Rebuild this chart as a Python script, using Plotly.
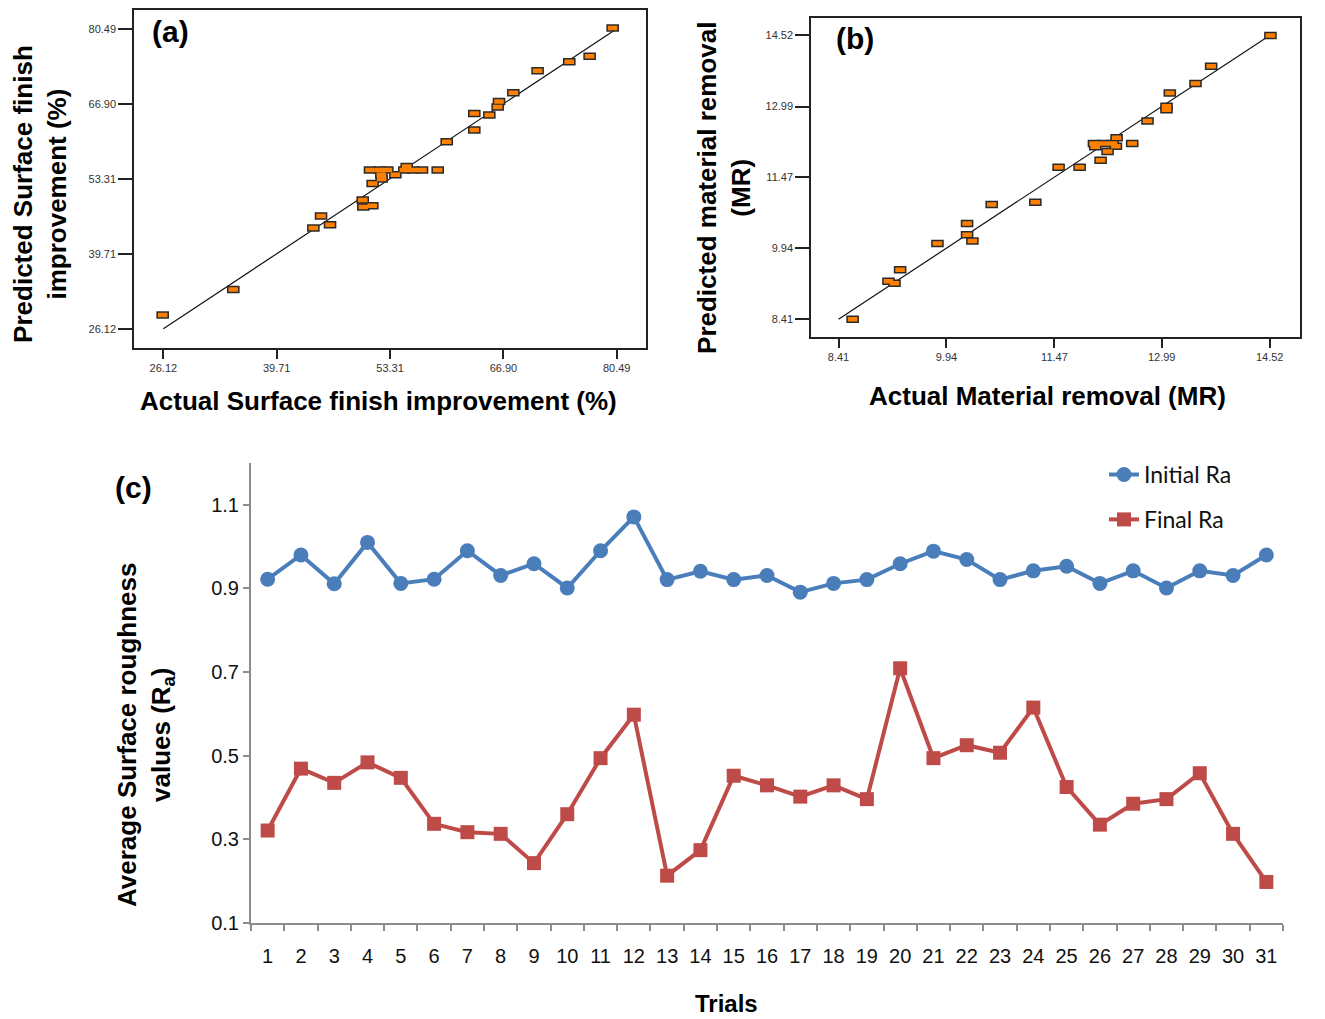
import plotly.graph_objects as go

# ---------------- data ----------------
# (a) Surface finish improvement (%)
actual_sf = [26.04, 34.51, 44.11, 45.03, 46.11, 50.03, 50.10, 51.18, 51.22, 50.90,
             52.02, 52.30, 52.26, 52.98, 53.94, 55.30, 55.02, 56.10, 57.14, 59.02,
             60.10, 63.41, 63.41, 65.21, 66.21, 66.37, 68.09, 71.00, 74.80, 77.24, 80.00]
predicted_sf = [28.63, 33.24, 44.36, 46.57, 44.96, 49.44, 48.18, 48.42, 52.43, 54.88,
                54.88, 53.27, 54.04, 54.88, 54.04, 55.54, 54.88, 54.88, 54.88, 54.88,
                60.02, 62.12, 65.11, 64.87, 66.30, 67.32, 68.88, 72.88, 74.50, 75.51, 80.60]
fit_sf = [26.12, 80.49]
ticks_sf = [26.12, 39.71, 53.31, 66.90, 80.49]
ticktext_sf = ["26.12", "39.71", "53.31", "66.90", "80.49"]

# (b) Material removal (MR)
actual_mr = [8.61, 9.118, 9.203, 9.283, 9.812, 10.232, 10.232, 10.307, 10.581, 11.199,
             11.529, 11.827, 12.030, 12.048, 12.162, 12.124, 12.223, 12.294, 12.341, 12.351,
             12.572, 12.789, 13.058, 13.058, 13.105, 13.469, 13.691, 14.531]
predicted_mr = [8.41, 9.228, 9.185, 9.477, 10.039, 10.473, 10.231, 10.096, 10.878, 10.928,
                11.682, 11.682, 12.194, 12.123, 12.194, 11.831, 12.023, 12.194, 12.137, 12.315,
                12.194, 12.677, 12.997, 12.919, 13.282, 13.488, 13.858, 14.52]
fit_mr = [8.41, 14.52]
ticks_mr = [8.41, 9.94, 11.47, 12.99, 14.52]
ticktext_mr = ["8.41", "9.94", "11.47", "12.99", "14.52"]

# (c) Surface roughness per trial
trials = [str(i) for i in range(1, 32)]
initial_ra = [0.922, 0.980, 0.911, 1.010, 0.912, 0.922, 0.990, 0.931, 0.959, 0.901,
              0.990, 1.071, 0.921, 0.941, 0.921, 0.931, 0.891, 0.912, 0.921, 0.959,
              0.989, 0.969, 0.921, 0.942, 0.953, 0.912, 0.942, 0.901, 0.942, 0.931, 0.980]
final_ra = [0.321, 0.469, 0.435, 0.484, 0.447, 0.337, 0.317, 0.313, 0.243, 0.360,
            0.494, 0.598, 0.213, 0.274, 0.452, 0.429, 0.402, 0.429, 0.396, 0.709,
            0.494, 0.525, 0.507, 0.615, 0.425, 0.335, 0.385, 0.396, 0.458, 0.313, 0.198]
ticks_ra = [0.1, 0.3, 0.5, 0.7, 0.9, 1.1]

# ---------------- helpers ----------------
W, H = 1325, 1019
def px(x):
    return x / W
def py(y):
    return 1 - y / H

ARIAL = "Liberation Sans, Arial, sans-serif"
ORANGE = "#FF8000"
EDGE = "#2a2a2a"
BLUE = "#4A7EBB"
RED = "#BE4B48"
GRAY = "#8C8C8C"

fig = go.Figure()

def rect_points(x, y, xa, ya):
    # dark outer bar then orange inner bar -> rectangular marker with border
    fig.add_trace(go.Scatter(x=x, y=y, mode="markers", xaxis=xa, yaxis=ya, showlegend=False,
                             marker=dict(symbol="line-ew", size=9, line=dict(width=7.5, color=EDGE))))
    fig.add_trace(go.Scatter(x=x, y=y, mode="markers", xaxis=xa, yaxis=ya, showlegend=False,
                             marker=dict(symbol="line-ew", size=6.8, line=dict(width=4.5, color=ORANGE))))

# (a)
fig.add_trace(go.Scatter(x=fit_sf, y=fit_sf, mode="lines", xaxis="x", yaxis="y", showlegend=False,
                         line=dict(color="#111111", width=1.2)))
rect_points(actual_sf, predicted_sf, "x", "y")
# (b)
fig.add_trace(go.Scatter(x=fit_mr, y=fit_mr, mode="lines", xaxis="x2", yaxis="y2", showlegend=False,
                         line=dict(color="#111111", width=1.2)))
rect_points(actual_mr, predicted_mr, "x2", "y2")
# (c)
fig.add_trace(go.Scatter(x=trials, y=initial_ra, mode="lines+markers", name="Initial Ra",
                         xaxis="x3", yaxis="y3", legendgroup="g1",
                         line=dict(color=BLUE, width=4),
                         marker=dict(symbol="circle", size=15, color=BLUE)))
fig.add_trace(go.Scatter(x=trials, y=final_ra, mode="lines+markers", name="Final Ra",
                         xaxis="x3", yaxis="y3", legendgroup="g2",
                         line=dict(color=RED, width=4),
                         marker=dict(symbol="square", size=14, color=RED)))

small_tick_font = dict(family=ARIAL, size=11, color="#333333")
box_axis = dict(showline=True, linecolor="#222222", linewidth=1.5, mirror=True,
                showgrid=False, zeroline=False, ticks="outside", tickcolor="#222222",
                tickwidth=1.5, tickfont=small_tick_font, tickmode="array")

fig.update_layout(
    width=W, height=H, margin=dict(l=0, r=0, t=0, b=0),
    paper_bgcolor="white", plot_bgcolor="white",
    xaxis=dict(domain=[px(134), px(646)], range=[22.6, 84.0], tickvals=ticks_sf,
               ticktext=ticktext_sf, ticklen=9, anchor="y", **box_axis),
    yaxis=dict(domain=[py(352), py(10)], range=[22.6, 83.9], tickvals=ticks_sf,
               ticktext=ticktext_sf, ticklen=14, anchor="x", **box_axis),
    xaxis2=dict(domain=[px(811), px(1300)], range=[8.02, 14.95], tickvals=ticks_mr,
                ticktext=ticktext_mr, ticklen=9, anchor="y2", **box_axis),
    yaxis2=dict(domain=[py(341), py(18)], range=[8.02, 14.90], tickvals=ticks_mr,
                ticktext=ticktext_mr, ticklen=14, anchor="x2", **box_axis),
    xaxis3=dict(domain=[px(251), px(1283)], anchor="y3", type="category",
                range=[-0.5, 30.5],
                showline=True, linecolor=GRAY, linewidth=2, showgrid=False, zeroline=False,
                ticks="outside", tickson="boundaries", ticklen=6, tickcolor=GRAY, tickwidth=2,
                tickangle=0, ticklabelstandoff=14,
                tickfont=dict(family=ARIAL, size=20, color="#111111")),
    yaxis3=dict(domain=[py(933), py(468)], anchor="x3", range=[0.1, 1.2],
                tickmode="array", tickvals=ticks_ra, tickformat=".1f",
                showline=True, linecolor=GRAY, linewidth=2, showgrid=False, zeroline=False,
                ticks="outside", ticklen=6, tickcolor=GRAY, tickwidth=2,
                tickfont=dict(family=ARIAL, size=20, color="#111111")),
    legend=dict(x=px(1104), y=py(458), xanchor="left", yanchor="top",
                font=dict(family="Lato, Carlito, Calibri, sans-serif", size=23, color="#111111"),
                tracegroupgap=12, bgcolor="rgba(0,0,0,0)", itemwidth=30),
    showlegend=True,
)

def ann(text, x, y, size, angle=0):
    fig.add_annotation(text=text, x=px(x), y=py(y), xref="paper", yref="paper",
                       showarrow=False, textangle=angle, xanchor="center", yanchor="middle",
                       font=dict(family=ARIAL, size=size, color="#000000"))

ann("<b>Predicted Surface finish<br>improvement (%)</b>", 40, 196, 26, -90)
ann("<b>Actual Surface finish improvement (%)</b>", 378, 405, 26)
ann("<b>Predicted material removal<br>(MR)</b>", 724, 190, 26, -90)
ann("<b>Actual Material removal (MR)</b>", 1047, 400, 26)
ann("<b>Average Surface roughness<br>values (R<sub>a</sub>)</b>", 146, 743, 26, -90)
ann("<b>Trials</b>", 726, 1014, 24)
ann("<b>(a)</b>", 170, 32, 30)
ann("<b>(b)</b>", 855, 39, 30)
ann("<b>(c)</b>", 133, 493, 30)

fig.write_html("out.html")
